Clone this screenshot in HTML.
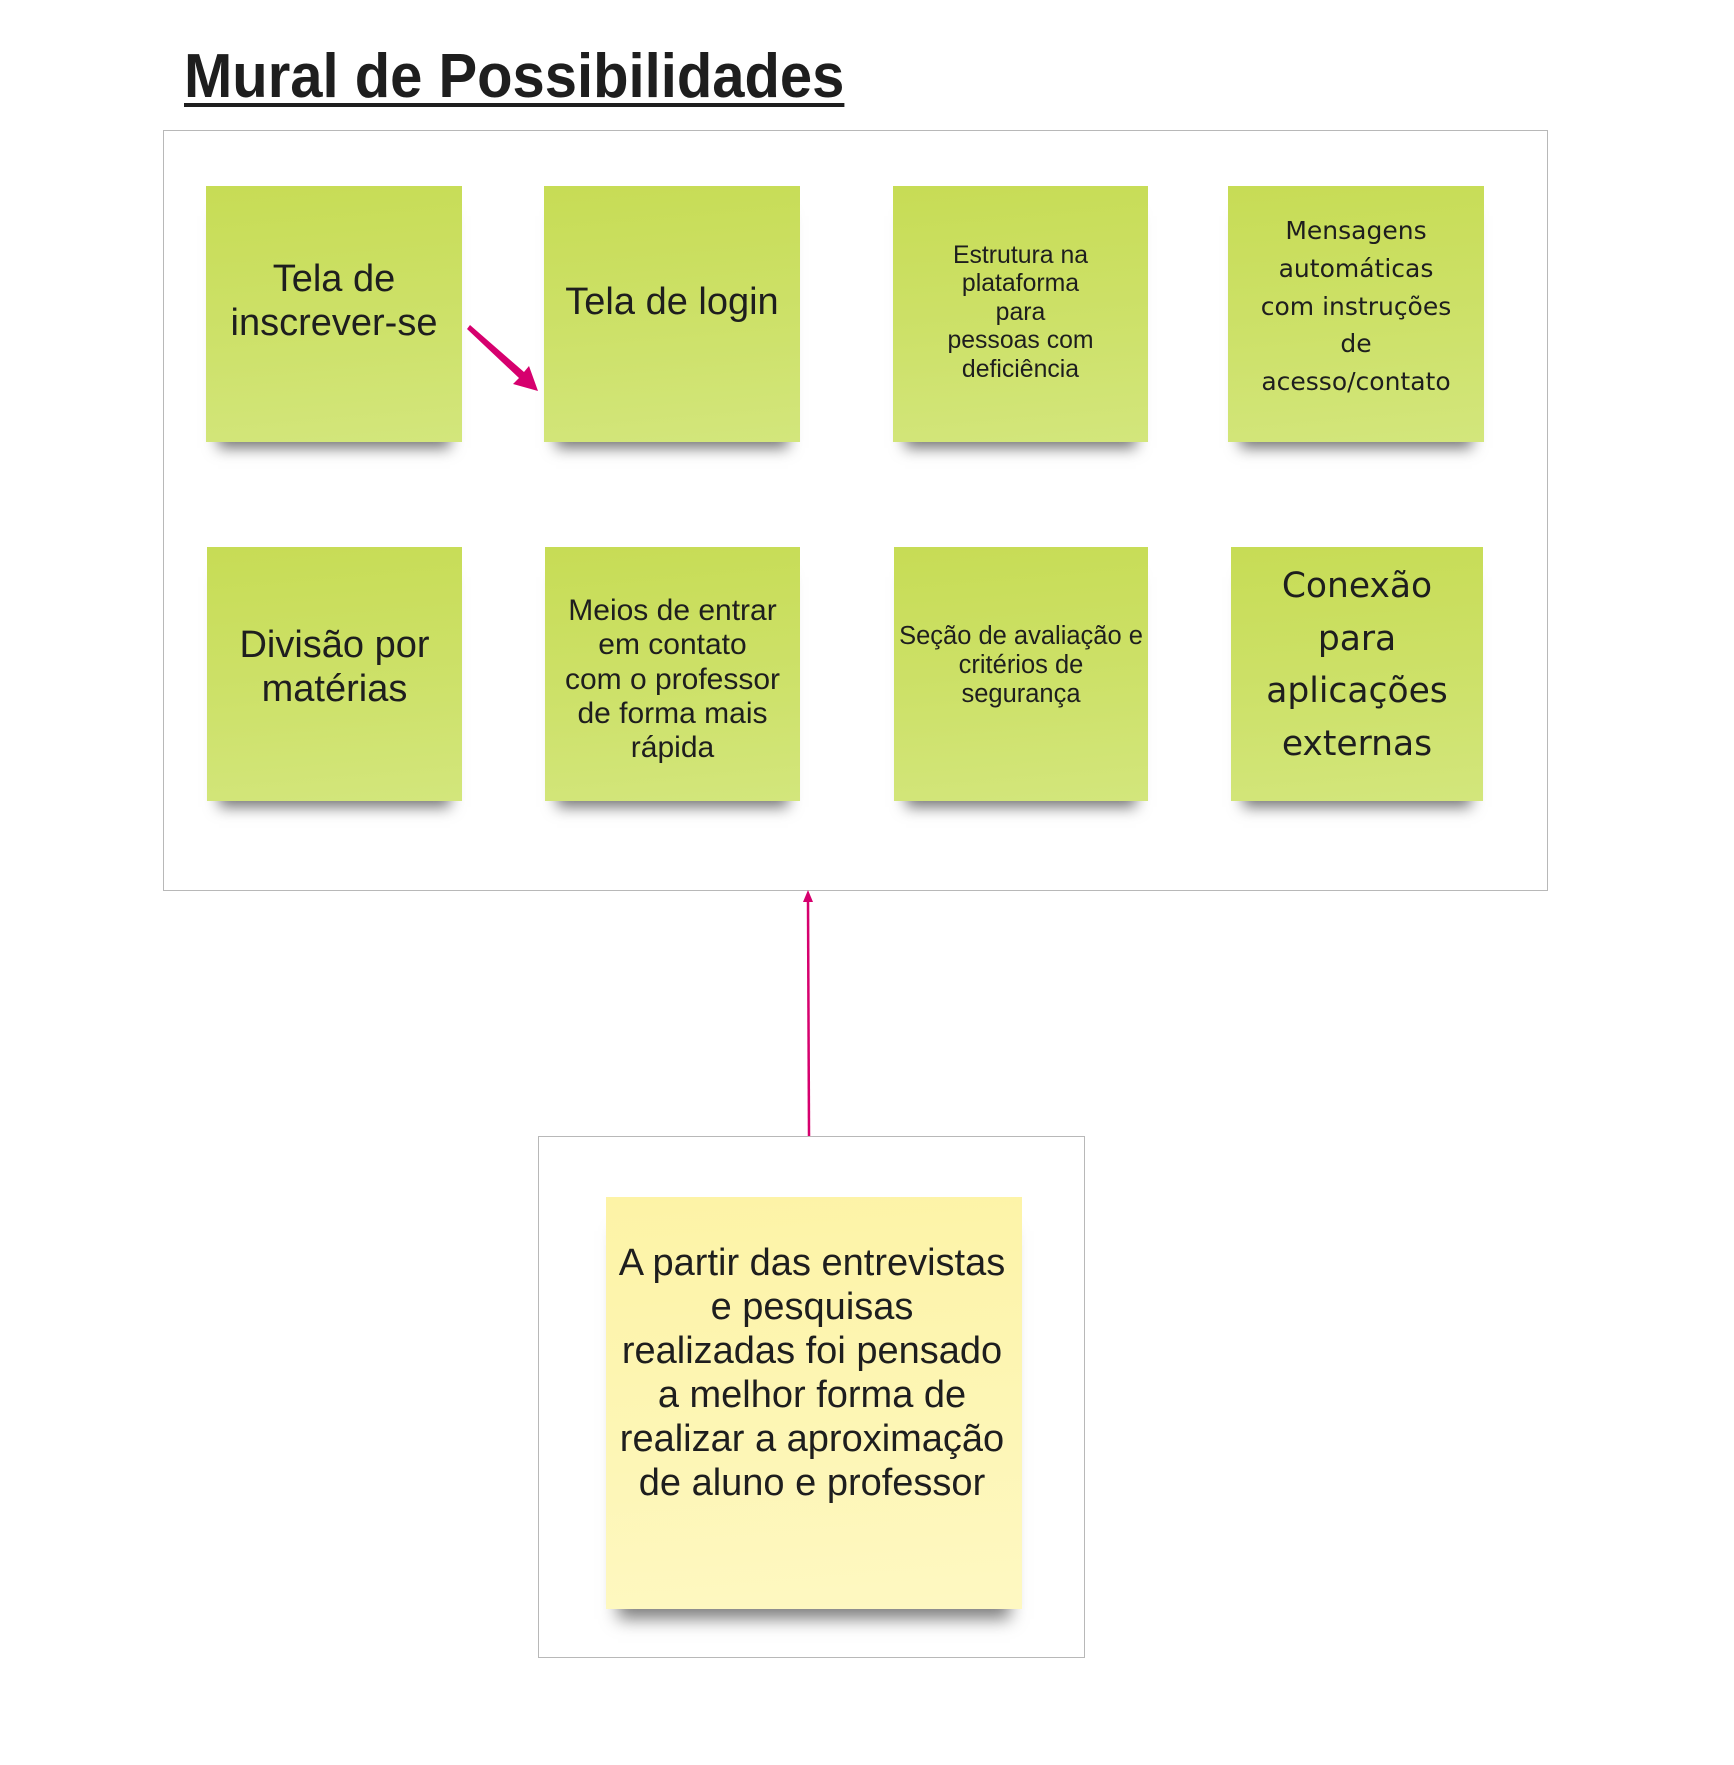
<!DOCTYPE html>
<html><head><meta charset="utf-8"><style>
html,body{margin:0;padding:0;background:#fff;}
body{width:1734px;height:1765px;position:relative;overflow:hidden;font-family:"Liberation Sans",sans-serif;color:#1e1e1e;}
.t{position:absolute;left:184px;top:46px;font-size:62px;font-weight:bold;line-height:62px;text-decoration:underline;text-decoration-thickness:4px;text-underline-offset:6px;transform:scaleX(0.935);transform-origin:0 0;white-space:nowrap;}
.box{position:absolute;border:1px solid #b8b8b8;background:#fff;box-sizing:border-box;}
.n{position:absolute;background:linear-gradient(175deg,#c7dc55 0%,#cde169 55%,#d3e67c 100%);box-shadow:0 18px 14px -12px rgba(0,0,0,0.55);}
.y{background:linear-gradient(175deg,#fdf3a6 0%,#fdf6b6 60%,#fef8c2 100%);}
.tx{position:absolute;left:-10px;right:-10px;text-align:center;white-space:nowrap;}
.o{font-family:"DejaVu Sans",sans-serif;}
</style></head><body>
<div class="t">Mural de Possibilidades</div>
<div class="box" style="left:163px;top:130px;width:1385px;height:761px;"></div>
<div class="box" style="left:538px;top:1136px;width:547px;height:522px;"></div>

<div class="n" style="left:206px;top:186px;width:256px;height:256px;"><div class="tx" style="top:71px;font-size:38px;line-height:44px;">Tela de<br>inscrever-se</div></div>
<div class="n" style="left:544px;top:186px;width:256px;height:256px;"><div class="tx" style="top:94px;font-size:38px;line-height:44px;">Tela de login</div></div>
<div class="n" style="left:893px;top:186px;width:255px;height:256px;"><div class="tx" style="top:56px;font-size:24.8px;line-height:28.4px;">Estrutura na<br>plataforma<br>para<br>pessoas com<br>deficiência</div></div>
<div class="n" style="left:1228px;top:186px;width:256px;height:256px;"><div class="tx o" style="top:26px;font-size:25px;line-height:37.8px;">Mensagens<br>automáticas<br>com instruções<br>de<br>acesso/contato</div></div>

<div class="n" style="left:207px;top:547px;width:255px;height:254px;"><div class="tx" style="top:76px;font-size:38px;line-height:44px;">Divisão por<br>matérias</div></div>
<div class="n" style="left:545px;top:547px;width:255px;height:254px;"><div class="tx" style="top:47px;font-size:30px;line-height:34.3px;">Meios de entrar<br>em contato<br>com o professor<br>de forma mais<br>rápida</div></div>
<div class="n" style="left:894px;top:547px;width:254px;height:254px;"><div class="tx" style="top:75px;font-size:25.5px;line-height:29px;">Seção de avaliação e<br>critérios de<br>segurança</div></div>
<div class="n" style="left:1231px;top:547px;width:252px;height:254px;"><div class="tx o" style="top:13px;font-size:34.5px;line-height:52.6px;">Conexão<br>para<br>aplicações<br>externas</div></div>

<div class="n y" style="left:606px;top:1197px;width:416px;height:412px;box-shadow:0 22px 16px -12px rgba(0,0,0,0.5);"><div class="tx" style="top:44px;font-size:38px;line-height:44px;left:-14px;">A partir das entrevistas<br>e pesquisas<br>realizadas foi pensado<br>a melhor forma de<br>realizar a aproximação<br>de aluno e professor</div></div>

<svg width="1734" height="1765" style="position:absolute;left:0;top:0;" xmlns="http://www.w3.org/2000/svg">
<polygon points="467,329 470,325 524,372 529,366 538,391 513,384 519,378" fill="#d6006e"/>
<line x1="809" y1="1136" x2="808" y2="900" stroke="#d6006e" stroke-width="2.5"/>
<polygon points="808,890 803,902 813,902" fill="#d6006e"/>
</svg>
</body></html>
